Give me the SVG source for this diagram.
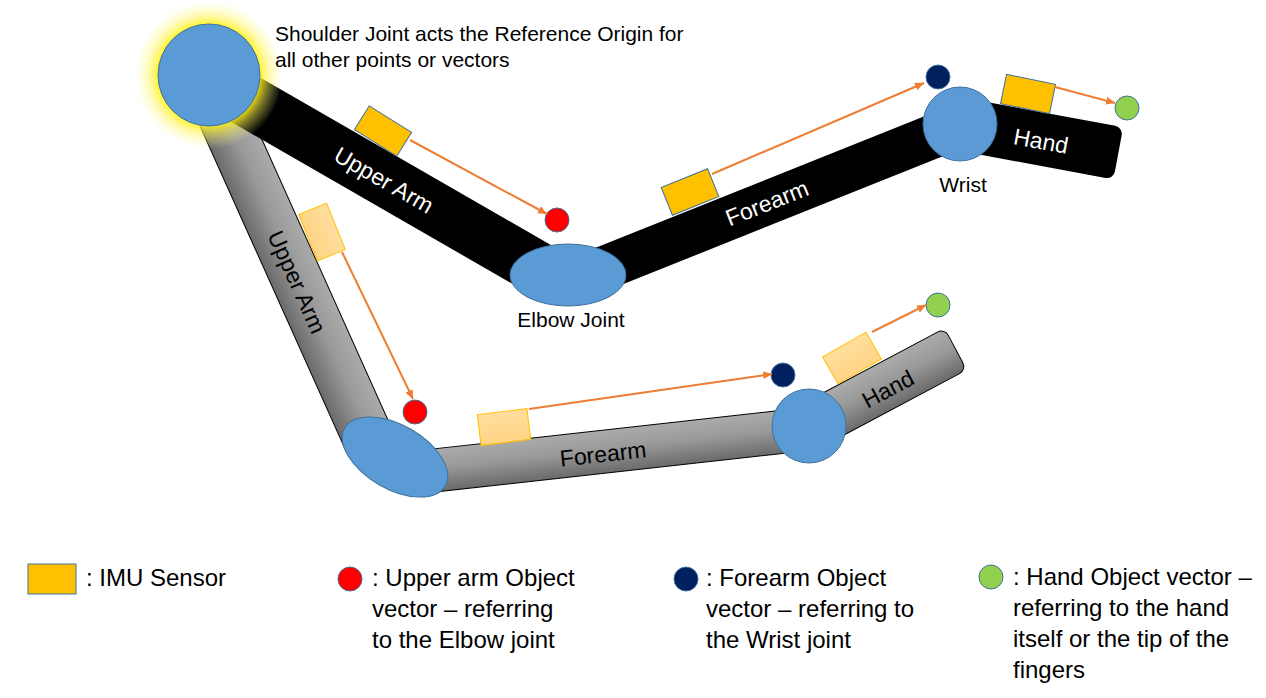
<svg xmlns="http://www.w3.org/2000/svg" width="1266" height="698" viewBox="0 0 1266 698">
<defs>
  <style>
    text { font-family: "Liberation Sans", Arial, sans-serif; }
    .lbl { font-size: 21px; fill: #000; }
    .leg { font-size: 24px; fill: #000; }
    .bar-w { font-size: 23px; fill: #fff; text-anchor: middle; }
    .bar-k { font-size: 23px; fill: #000; text-anchor: middle; }
    .joint { fill: #5B9BD5; stroke: #41719C; stroke-width: 1; }
    .imu { fill: #FFC000; stroke: #41719C; stroke-width: 1; }
    .imu-l { fill: url(#lightG); stroke: #FFC000; stroke-width: 1; }
    .gray { fill: url(#grayG); stroke: #000; stroke-width: 1; }
    .red { fill: #FF0000; stroke: #41719C; stroke-width: 1; }
    .navy { fill: #002060; stroke: #41719C; stroke-width: 1; }
    .green { fill: #92D050; stroke: #41719C; stroke-width: 1; }
    .arrow { stroke: #ED7D31; stroke-width: 2; fill: none; marker-end: url(#ah); }
  </style>
  <radialGradient id="glow" cx="209" cy="75" r="74" gradientUnits="userSpaceOnUse">
    <stop offset="0.66" stop-color="#FFF200" stop-opacity="0.95"/>
    <stop offset="0.8" stop-color="#FFF34D" stop-opacity="0.5"/>
    <stop offset="1" stop-color="#FFFF99" stop-opacity="0"/>
  </radialGradient>
  <linearGradient id="grayG" x1="0" y1="0" x2="0" y2="1">
    <stop offset="0" stop-color="#ababab"/>
    <stop offset="0.45" stop-color="#999999"/>
    <stop offset="1" stop-color="#6a6a6a"/>
  </linearGradient>
  <linearGradient id="lightG" x1="0" y1="0" x2="0" y2="1">
    <stop offset="0" stop-color="#FFDE9E"/>
    <stop offset="1" stop-color="#FFD485"/>
  </linearGradient>
  <marker id="ah" viewBox="0 0 10 10" refX="10" refY="5" markerWidth="4.5" markerHeight="4.5" orient="auto" markerUnits="strokeWidth">
    <path d="M0,0.5 L10,5 L0,9.5 z" fill="#ED7D31"/>
  </marker>
</defs>

<!-- Lower (gray) arm segments -->
<g id="gray-upper-arm" transform="translate(205,75) rotate(65.8)">
  <rect class="gray" x="0" y="-25.5" width="400" height="51"/>
</g>
<g id="gray-forearm" transform="translate(420,472) rotate(-6.31)">
  <rect class="gray" x="0" y="-21.5" width="391" height="43"/>
</g>
<g id="gray-hand" transform="translate(809,427) rotate(-28)">
  <rect class="gray" x="0" y="-23.5" width="166" height="47" rx="8"/>
</g>

<!-- Upper (black) arm segments -->
<g id="black-upper-arm">
  <polygon points="200,43 556,248 530,294 174,89" fill="#000"/>
</g>
<g id="black-forearm">
  <polygon points="580,254 945,108 961,149 596,295" fill="#000"/>
</g>
<g id="black-hand" transform="translate(960,124) rotate(10.5)">
  <rect x="0" y="-26.5" width="161" height="53" rx="8" fill="#000"/>
</g>

<!-- Segment labels -->
<g id="segment-labels">
  <text class="bar-w" transform="translate(384,180) rotate(29.8)" dy="0.35em">Upper Arm</text>
  <text class="bar-w" transform="translate(767,203) rotate(-21.7)" dy="0.35em">Forearm</text>
  <text class="bar-w" transform="translate(1041,141) rotate(10.5)" dy="0.35em">Hand</text>
  <text class="bar-k" transform="translate(297,282) rotate(65.8)" dy="0.35em">Upper Arm</text>
  <text class="bar-k" transform="translate(603,454) rotate(-6.3)" dy="0.35em">Forearm</text>
  <text class="bar-k" transform="translate(888,389) rotate(-28)" dy="0.35em">Hand</text>
</g>

<!-- Glow of shoulder -->
<circle cx="209" cy="75" r="74" fill="url(#glow)"/>

<!-- Joints -->
<g id="shoulder"><circle class="joint" cx="209" cy="75" r="51"/></g>
<g id="elbow"><ellipse class="joint" cx="568" cy="275" rx="58" ry="31"/></g>
<g id="wrist"><circle class="joint" cx="960" cy="124" r="37"/></g>
<g id="elbow-lower"><ellipse class="joint" cx="395" cy="457" rx="58" ry="32" transform="rotate(30 395 457)"/></g>
<g id="wrist-lower"><circle class="joint" cx="809" cy="426" r="37"/></g>

<!-- IMU sensors -->
<g id="imu-upper-arm"><rect class="imu" x="-25" y="-14" width="50" height="28" transform="translate(383,131) rotate(32)"/></g>
<g id="imu-forearm"><rect class="imu" x="-25" y="-15" width="50" height="30" transform="translate(690,192) rotate(-22)"/></g>
<g id="imu-hand"><rect class="imu" x="-25" y="-15" width="50" height="30" transform="translate(1028,94) rotate(11.5)"/></g>
<g id="imu-upper-arm-lower"><rect class="imu-l" x="-25" y="-15" width="50" height="30" transform="translate(322,232) rotate(68)"/></g>
<g id="imu-forearm-lower"><rect class="imu-l" x="-25" y="-15.5" width="50" height="31" transform="translate(504,427) rotate(-7)"/></g>
<g id="imu-hand-lower"><rect class="imu-l" x="-25" y="-15.5" width="50" height="31" transform="translate(852,358) rotate(-29.6)"/></g>

<!-- Object vectors -->
<g id="vec-upper"><circle class="red" cx="557" cy="220" r="12"/></g>
<g id="vec-forearm"><circle class="navy" cx="938" cy="77" r="12"/></g>
<g id="vec-hand"><circle class="green" cx="1127" cy="108" r="12"/></g>
<g id="vec-upper-lower"><circle class="red" cx="415" cy="412" r="12"/></g>
<g id="vec-forearm-lower"><circle class="navy" cx="783" cy="375" r="12"/></g>
<g id="vec-hand-lower"><circle class="green" cx="938" cy="305" r="12"/></g>

<!-- Connectors -->
<g id="connectors">
  <line class="arrow" x1="410" y1="140" x2="547" y2="214"/>
  <line class="arrow" x1="712" y1="174" x2="924" y2="83"/>
  <line class="arrow" x1="1055" y1="87" x2="1115" y2="103"/>
  <line class="arrow" x1="342" y1="252" x2="413" y2="399"/>
  <line class="arrow" x1="529" y1="409" x2="772" y2="374"/>
  <line class="arrow" x1="872" y1="332" x2="926" y2="305"/>
</g>

<!-- Annotations -->
<g id="annotations">
  <text class="lbl" x="275" y="41">Shoulder Joint acts the Reference Origin for</text>
  <text class="lbl" x="275" y="67">all other points or vectors</text>
  <text class="lbl" x="571" y="327" text-anchor="middle">Elbow Joint</text>
  <text class="lbl" x="963" y="192" text-anchor="middle">Wrist</text>
</g>

<!-- Legend -->
<g id="legend-imu">
  <rect class="imu" x="28" y="564" width="48" height="30"/>
  <text class="leg" x="86" y="586">: IMU Sensor</text>
</g>
<g id="legend-upper">
  <circle class="red" cx="350" cy="579" r="12"/>
  <text class="leg" x="372" y="586">: Upper arm Object</text>
  <text class="leg" x="372" y="617">vector – referring</text>
  <text class="leg" x="372" y="648">to the Elbow joint</text>
</g>
<g id="legend-forearm">
  <circle class="navy" cx="686" cy="579" r="12"/>
  <text class="leg" x="706" y="586">: Forearm Object</text>
  <text class="leg" x="706" y="617">vector – referring to</text>
  <text class="leg" x="706" y="648">the Wrist joint</text>
</g>
<g id="legend-hand">
  <circle class="green" cx="991" cy="577" r="12"/>
  <text class="leg" x="1013" y="585">: Hand Object vector –</text>
  <text class="leg" x="1013" y="616">referring to the hand</text>
  <text class="leg" x="1013" y="647">itself or the tip of the</text>
  <text class="leg" x="1013" y="678">fingers</text>
</g>
</svg>
